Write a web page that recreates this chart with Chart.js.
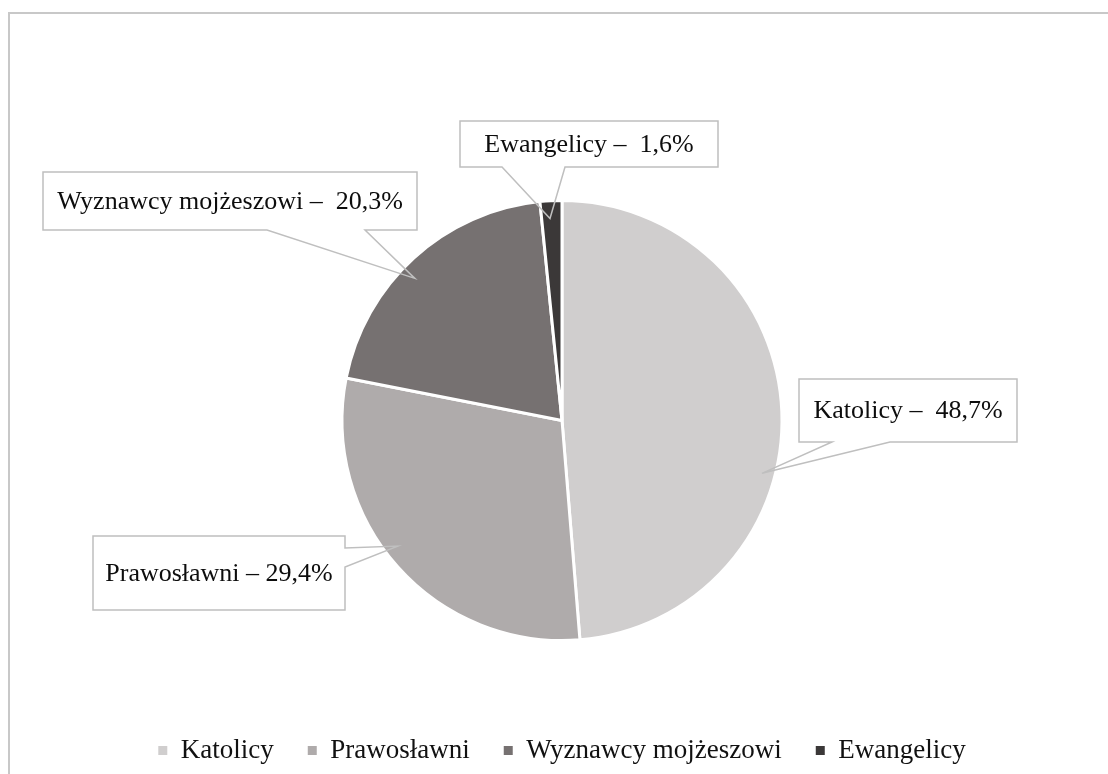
<!DOCTYPE html>
<html>
<head>
<meta charset="utf-8">
<script src="https://cdn.jsdelivr.net/npm/chart.js@4/dist/chart.umd.min.js"></script>
<style>
  html, body { margin: 0; padding: 0; background: #fff; overflow: hidden; }
  #frame { position: absolute; left: 8px; top: 12px; width: 1200px; height: 900px;
           border-top: 2px solid #c8c8c8; border-left: 2px solid #c8c8c8; }
  #wrap { position: absolute; left: 0; top: 0; width: 1108px; height: 774px; }
</style>
</head>
<body>
<div id="frame"></div>
<div id="wrap"><canvas id="wyznania" width="1108" height="774"></canvas></div>
<script>
const kategorie = ["Katolicy", "Prawosławni", "Wyznawcy mojżeszowi", "Ewangelicy"];
const udzialy = [48.7, 29.4, 20.3, 1.6];
const kolory = ["#d0cece", "#afabab", "#767171", "#3b3838"];
const separatory = [" –  ", " – ", " –  ", " –  "];

// ramki opisów: pozycja pudełka, miejsce dzióbka, kąt i odległość końca od środka
const opisy = [
    { x: 799, y: 379, w: 218, h: 63, bok: "dol", a: 832, b: 890, kat: 14.8, r: 0.94 },
    { x: 93, y: 536, w: 252, h: 74, bok: "prawo", a: 548, b: 567, kat: 142.6, r: 0.94 },
    { x: 43, y: 172, w: 374, h: 58, bok: "dol", a: 267, b: 365, kat: -136, r: 0.93 },
    { x: 460, y: 121, w: 258, h: 46, bok: "dol", a: 502, b: 565, kat: -93.4, r: 0.92 }
];

const FONT = "'Liberation Serif', 'Times New Roman', serif";

const calloutPlugin = {
    id: "callouty",
    afterDatasetsDraw(chart) {
        const ctx = chart.ctx;
        const meta = chart.getDatasetMeta(0);
        meta.data.forEach((arc, i) => {
            const o = opisy[i];
            const kat = o.kat * Math.PI / 180;
            const tx = arc.x + Math.cos(kat) * arc.outerRadius * o.r;
            const ty = arc.y + Math.sin(kat) * arc.outerRadius * o.r;

            ctx.save();
            ctx.fillStyle = "#fff";
            ctx.fillRect(o.x, o.y, o.w, o.h);

            ctx.beginPath();
            ctx.moveTo(o.x, o.y);
            ctx.lineTo(o.x + o.w, o.y);
            if (o.bok === "prawo") {
                ctx.lineTo(o.x + o.w, o.a);
                ctx.lineTo(tx, ty);
                ctx.lineTo(o.x + o.w, o.b);
                ctx.lineTo(o.x + o.w, o.y + o.h);
                ctx.lineTo(o.x, o.y + o.h);
            } else {
                ctx.lineTo(o.x + o.w, o.y + o.h);
                ctx.lineTo(o.b, o.y + o.h);
                ctx.lineTo(tx, ty);
                ctx.lineTo(o.a, o.y + o.h);
                ctx.lineTo(o.x, o.y + o.h);
            }
            ctx.closePath();
            ctx.strokeStyle = "#bfbfbf";
            ctx.lineWidth = 1.5;
            ctx.stroke();

            const tekst = kategorie[i] + separatory[i] + udzialy[i].toFixed(1).replace(".", ",") + "%";
            ctx.fillStyle = "#0d0d0d";
            ctx.font = "26px " + FONT;
            ctx.textAlign = "center";
            ctx.textBaseline = "middle";
            ctx.fillText(tekst, o.x + o.w / 2, o.y + o.h / 2 + 1);
            ctx.restore();
        });
    }
};

const ctx = document.getElementById("wyznania").getContext("2d");
new Chart(ctx, {
    type: "pie",
    data: {
        labels: kategorie,
        datasets: [{
            data: udzialy,
            backgroundColor: kolory,
            borderColor: "#ffffff",
            borderWidth: 3
        }]
    },
    options: {
        responsive: false,
        animation: false,
        radius: 220,
        layout: { padding: { top: 138, left: 16, right: 0, bottom: 0 } },
        plugins: {
            tooltip: { enabled: false },
            legend: {
                position: "bottom",
                labels: {
                    boxWidth: 9,
                    boxHeight: 9,
                    padding: 34,
                    color: "#111",
                    font: { family: FONT, size: 27 },
                    generateLabels(chart) {
                        const items = Chart.overrides.pie.plugins.legend.labels.generateLabels(chart);
                        items.forEach(it => { it.lineWidth = 0; it.strokeStyle = it.fillStyle; });
                        return items;
                    }
                }
            }
        }
    },
    plugins: [calloutPlugin]
});
</script>
</body>
</html>
